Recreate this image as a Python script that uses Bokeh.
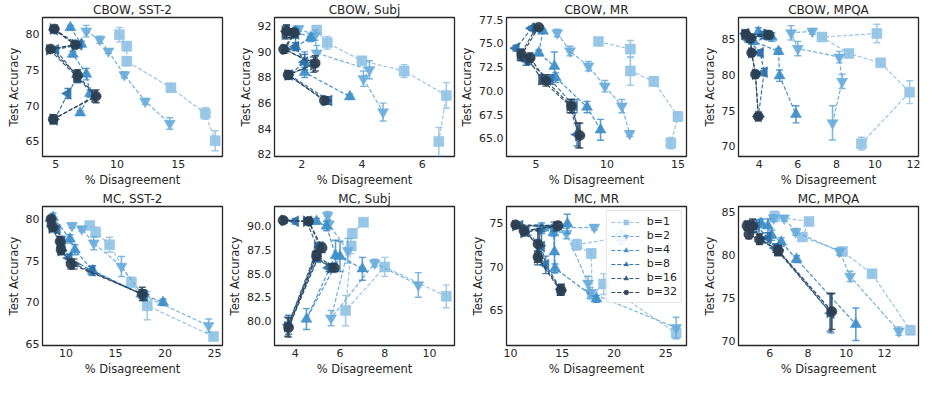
import math
from bokeh.plotting import figure
from bokeh.layouts import column, row
from bokeh.models import (ColumnDataSource, FixedTicker, NumeralTickFormatter,
                          Legend, LegendItem, Range1d)
from bokeh.embed import file_html
from bokeh.resources import INLINE

# ---------------- data ----------------
series_labels = ["b=1", "b=2", "b=4", "b=8", "b=16", "b=32"]
panel_titles = ["CBOW, SST-2", "CBOW, Subj", "CBOW, MR", "CBOW, MPQA",
                "MC, SST-2", "MC, Subj", "MC, MR", "MC, MPQA"]

# CBOW, SST-2
cbow_sst2_x = [[10.2, 10.8, 10.8, 14.4, 17.2, 18.0], [7.5, 8.6, 9.3, 10.6, 12.3, 14.3],
               [6.2, 7.1, 6.4, 7.5, 7.8, 7.0], [4.9, 6.9, 5.0, 6.8, 6.0, 4.9],
               [4.8, 6.6, 4.5, 6.7, 8.2, 4.8], [4.9, 6.6, 4.6, 6.8, 8.3, 4.8]]
cbow_sst2_y = [[79.9, 78.3, 76.2, 72.5, 68.9, 65.1], [80.4, 79.2, 77.6, 74.3, 70.6, 67.5],
               [80.9, 78.6, 77.2, 74.4, 71.7, 69.0], [80.6, 78.5, 77.8, 74.0, 71.7, 68.0],
               [80.7, 78.5, 77.8, 74.1, 71.3, 68.1], [80.7, 78.5, 77.9, 74.2, 71.3, 68.1]]
cbow_sst2_e = [[1.0, 0.6, 0.6, 0.5, 0.8, 1.4], [0.8, 0.5, 0.3, 0.4, 0.4, 0.8],
               [0.3, 0.4, 0.4, 0.8, 0.5, 0.3], [0.4, 0.4, 0.3, 0.8, 0.7, 0.5],
               [0.3, 0.4, 0.3, 0.8, 0.8, 0.6], [0.3, 0.4, 0.3, 0.8, 0.9, 0.6]]

# CBOW, Subj
cbow_subj_x = [[2.5, 2.85, 4.0, 5.4, 6.8, 6.55], [1.9, 2.45, 2.5, 4.25, 4.05, 4.7],
               [1.8, 2.3, 1.8, 2.1, 2.1, 3.6], [1.5, 1.8, 1.8, 2.1, 1.6, 2.9],
               [1.45, 1.75, 1.45, 2.4, 1.55, 2.8], [1.5, 1.75, 1.4, 2.45, 1.55, 2.75]]
cbow_subj_y = [[91.7, 90.7, 89.3, 88.5, 86.6, 83.0], [91.8, 91.3, 89.9, 88.6, 87.9, 85.3],
               [91.6, 91.1, 90.4, 89.2, 88.4, 86.5], [91.6, 91.4, 90.4, 89.2, 88.2, 86.2],
               [91.5, 91.4, 90.2, 89.0, 88.2, 86.2], [91.6, 91.5, 90.2, 89.1, 88.2, 86.2]]
cbow_subj_e = [[0.3, 0.5, 0.3, 0.5, 1.0, 1.1], [0.2, 0.4, 0.6, 0.7, 0.6, 0.7],
               [0.3, 0.3, 0.3, 0.8, 0.4, 0.2], [0.5, 0.3, 0.3, 0.6, 0.3, 0.3],
               [0.5, 0.3, 0.3, 0.6, 0.3, 0.3], [0.5, 0.3, 0.3, 0.6, 0.3, 0.3]]

# CBOW, MR
cbow_mr_x = [[9.4, 11.65, 11.65, 13.3, 15.0, 14.5], [6.5, 7.4, 8.7, 9.85, 11.05, 11.6],
             [5.5, 5.2, 6.3, 6.4, 8.6, 9.55], [4.7, 3.6, 4.3, 6.0, 7.7, 7.9],
             [5.0, 3.9, 4.5, 5.4, 7.4, 8.0], [5.2, 4.0, 4.6, 5.7, 7.5, 8.1]]
cbow_mr_y = [[75.2, 74.4, 72.1, 71.0, 67.3, 64.5], [76.1, 74.2, 72.6, 70.5, 68.4, 65.5],
             [76.3, 74.0, 72.6, 71.4, 68.3, 65.9], [76.6, 74.5, 73.2, 71.2, 68.4, 65.4],
             [76.6, 73.8, 73.3, 71.2, 68.4, 65.3], [76.7, 73.8, 73.5, 71.1, 68.4, 65.3]]
cbow_mr_e = [[0.3, 0.9, 1.5, 0.5, 0.5, 0.6], [0.4, 0.5, 0.5, 0.6, 0.7, 0.3],
             [0.2, 0.3, 1.5, 0.5, 0.6, 1.1], [0.2, 0.3, 0.5, 0.5, 0.7, 1.2],
             [0.2, 0.6, 0.5, 0.5, 0.7, 1.3], [0.2, 0.6, 0.5, 0.6, 0.7, 1.3]]

# CBOW, MPQA
cbow_mpqa_x = [[10.1, 7.25, 8.65, 10.3, 11.8, 9.3], [6.75, 5.65, 6.0, 8.15, 8.3, 7.8],
               [3.95, 4.65, 3.7, 5.0, 5.05, 5.9], [3.3, 4.2, 3.4, 4.05, 4.25, 3.95],
               [3.25, 4.4, 3.5, 3.6, 3.8, 3.95], [3.3, 4.5, 3.55, 3.6, 3.8, 3.95]]
cbow_mpqa_y = [[85.8, 85.3, 83.0, 81.7, 77.6, 70.4], [86.1, 85.9, 83.7, 82.5, 79.1, 73.3],
               [86.0, 85.3, 84.7, 83.3, 79.9, 74.5], [85.8, 85.6, 85.0, 83.1, 80.4, 74.2],
               [85.7, 85.7, 85.2, 83.1, 80.1, 74.2], [85.7, 85.6, 85.1, 83.1, 80.1, 74.2]]
cbow_mpqa_e = [[1.3, 0.3, 0.4, 0.4, 1.6, 0.9], [0.4, 1.0, 1.0, 0.8, 1.0, 2.4],
               [0.6, 0.6, 0.4, 0.4, 0.8, 1.2], [0.5, 0.5, 0.4, 0.4, 0.5, 0.3],
               [0.5, 0.5, 0.4, 0.4, 0.5, 0.3], [0.5, 0.5, 0.4, 0.4, 0.5, 0.3]]

# MC, SST-2
mc_sst2_x = [[12.4, 13.0, 14.4, 16.6, 18.2, 24.9], [10.6, 11.6, 12.8, 15.6, 17.8, 24.4],
             [8.7, 10.4, 10.9, 12.7, 17.6, 19.8], [8.5, 9.1, 9.6, 10.3, 12.6, 17.9],
             [8.4, 8.6, 9.4, 9.5, 10.8, 17.8], [8.5, 8.7, 9.4, 9.5, 10.5, 17.7]]
mc_sst2_y = [[79.2, 78.4, 76.9, 72.4, 69.6, 65.9], [79.2, 78.8, 77.1, 74.3, 70.8, 67.2],
             [80.2, 77.6, 76.3, 73.8, 71.0, 70.0], [79.8, 78.7, 77.3, 75.3, 73.8, 70.8],
             [79.6, 78.9, 77.1, 76.2, 74.6, 70.9], [80.0, 79.0, 77.3, 76.3, 74.6, 71.0]]
mc_sst2_e = [[0.3, 0.6, 0.9, 0.6, 1.7, 0.3], [0.3, 0.3, 0.8, 1.2, 0.5, 0.8],
             [0.5, 0.5, 0.6, 0.6, 0.5, 0.4], [0.4, 0.4, 0.6, 0.5, 0.5, 0.6],
             [0.4, 0.4, 0.6, 0.5, 0.6, 0.6], [0.4, 0.4, 0.6, 0.5, 0.6, 0.8]]

# MC, Subj
mc_subj_x = [[7.05, 6.55, 6.5, 6.25, 8.0, 10.75], [5.45, 5.5, 6.35, 5.6, 7.55, 9.5],
             [4.95, 5.4, 5.8, 4.5, 6.0, 7.0], [4.0, 4.6, 5.1, 3.7, 5.0, 5.5],
             [3.5, 4.5, 5.0, 3.65, 4.9, 5.6], [3.45, 4.6, 5.2, 3.7, 4.95, 5.75]]
mc_subj_y = [[90.4, 89.2, 87.9, 81.1, 85.7, 82.6], [91.1, 90.2, 87.4, 80.3, 86.1, 83.8],
             [90.5, 90.0, 86.9, 80.2, 86.8, 85.5], [90.5, 90.5, 87.8, 79.6, 86.7, 85.6],
             [90.6, 90.5, 87.7, 79.4, 86.8, 85.6], [90.6, 90.5, 87.7, 79.3, 86.9, 85.6]]
mc_subj_e = [[0.3, 0.5, 0.8, 1.6, 1.0, 1.2], [0.4, 0.4, 1.3, 0.8, 0.4, 1.3],
             [0.3, 0.5, 1.6, 1.1, 1.6, 1.2], [0.3, 0.3, 0.5, 1.0, 0.5, 0.4],
             [0.3, 0.3, 0.5, 1.0, 0.5, 0.4], [0.3, 0.3, 0.5, 1.0, 0.5, 0.4]]

# MC, MR
mc_mr_x = [[20.7, 16.4, 17.8, 17.9, 19.0, 26.0], [18.1, 12.9, 15.4, 17.5, 17.7, 26.0],
           [15.5, 13.0, 14.15, 14.25, 14.3, 18.3], [10.9, 14.2, 11.5, 13.0, 13.4, 14.9],
           [10.5, 14.5, 11.3, 12.8, 12.6, 14.8], [10.5, 14.6, 11.3, 12.65, 12.65, 14.9]]
mc_mr_y = [[73.4, 72.5, 71.5, 66.8, 68.0, 62.4], [74.5, 74.4, 73.8, 68.1, 67.0, 63.0],
           [74.9, 74.4, 73.9, 71.7, 69.8, 66.3], [74.7, 74.6, 74.1, 72.3, 70.2, 67.4],
           [74.7, 74.6, 73.9, 72.4, 71.0, 67.3], [74.8, 74.7, 74.1, 72.6, 71.1, 67.3]]
mc_mr_e = [[0.8, 0.6, 0.5, 0.5, 1.2, 0.7], [0.3, 0.4, 0.6, 0.8, 0.6, 1.2],
           [1.1, 0.6, 0.4, 2.4, 0.5, 0.4], [0.3, 0.5, 0.4, 1.7, 1.0, 0.6],
           [0.3, 0.5, 0.4, 1.7, 0.8, 0.6], [0.3, 0.4, 0.4, 1.7, 0.6, 0.6]]

# MC, MPQA
mc_mpqa_x = [[6.25, 8.05, 7.7, 9.8, 11.35, 13.35], [6.2, 6.75, 7.35, 9.65, 10.2, 12.75],
             [5.55, 5.9, 6.1, 6.6, 7.4, 10.5], [5.0, 5.3, 5.9, 6.3, 6.45, 9.2],
             [4.85, 5.1, 5.5, 6.4, 6.4, 9.15], [4.8, 5.1, 4.9, 5.45, 6.45, 9.25]]
mc_mpqa_y = [[84.5, 83.9, 82.1, 80.4, 77.8, 71.2], [84.3, 84.3, 82.7, 80.4, 77.5, 71.1],
             [83.7, 83.4, 82.3, 81.5, 79.5, 71.9], [83.5, 83.4, 82.0, 80.8, 80.5, 73.2],
             [83.4, 83.4, 81.9, 80.6, 80.5, 73.3], [83.4, 83.4, 82.4, 81.8, 80.5, 73.4]]
mc_mpqa_e = [[0.6, 0.3, 0.3, 0.4, 0.4, 0.5], [0.4, 0.3, 0.4, 0.4, 0.6, 0.5],
             [0.5, 0.8, 0.6, 0.5, 0.4, 1.9], [0.5, 0.7, 0.6, 0.5, 0.5, 2.3],
             [0.5, 0.7, 0.6, 0.5, 0.5, 2.2], [0.5, 0.8, 0.5, 0.6, 0.6, 2.1]]

# tick positions
cbow_sst2_xt, cbow_sst2_yt = [5, 10, 15], [65, 70, 75, 80]
cbow_subj_xt, cbow_subj_yt = [2, 4, 6], [82, 84, 86, 88, 90, 92]
cbow_mr_xt, cbow_mr_yt = [5, 10, 15], [65.0, 67.5, 70.0, 72.5, 75.0, 77.5]
cbow_mpqa_xt, cbow_mpqa_yt = [4, 6, 8, 10, 12], [70, 75, 80, 85]
mc_sst2_xt, mc_sst2_yt = [10, 15, 20, 25], [65, 70, 75, 80]
mc_subj_xt, mc_subj_yt = [4, 6, 8, 10], [80.0, 82.5, 85.0, 87.5, 90.0]
mc_mr_xt, mc_mr_yt = [10, 15, 20, 25], [65, 70, 75]
mc_mpqa_xt, mc_mpqa_yt = [6, 8, 10, 12], [70, 75, 80, 85]

# ---------------- style ----------------
colors = ["#93c3e5", "#6aaddb", "#3e8ec9", "#2b70aa", "#2b5578", "#2c3e50"]
markers = ["square", "inverted_triangle", "triangle", "triangle", "triangle", "circle"]
angles = [0, 0, 0, math.pi / 2, -math.pi / 2, 0]
msizes = [10, 11, 11, 11, 11, 10]
FONT = "DejaVu Sans"
TXT = "#262626"

panels = [
    (cbow_sst2_x, cbow_sst2_y, cbow_sst2_e, (3.93, 18.6), (62.9, 82.3), cbow_sst2_xt, cbow_sst2_yt, "0"),
    (cbow_subj_x, cbow_subj_y, cbow_subj_e, (1.10, 7.07), (81.83, 92.68), cbow_subj_xt, cbow_subj_yt, "0"),
    (cbow_mr_x, cbow_mr_y, cbow_mr_e, (2.93, 15.6), (63.09, 77.73), cbow_mr_xt, cbow_mr_yt, "0.0"),
    (cbow_mpqa_x, cbow_mpqa_y, cbow_mpqa_e, (2.92, 12.26), (68.6, 88.04), cbow_mpqa_xt, cbow_mpqa_yt, "0"),
    (mc_sst2_x, mc_sst2_y, mc_sst2_e, (7.63, 25.8), (64.82, 81.49), mc_sst2_xt, mc_sst2_yt, "0"),
    (mc_subj_x, mc_subj_y, mc_subj_e, (3.07, 11.12), (77.42, 92.06), mc_subj_xt, mc_subj_yt, "0.0"),
    (mc_mr_x, mc_mr_y, mc_mr_e, (9.62, 27.0), (60.96, 76.89), mc_mr_xt, mc_mr_yt, "0"),
    (mc_mpqa_x, mc_mpqa_y, mc_mpqa_e, (4.36, 13.78), (69.42, 85.66), mc_mpqa_xt, mc_mpqa_yt, "0"),
]


def make_panel(idx):
    xs, ys, es, xr, yr, xt, yt, fmt = panels[idx]
    col = idx % 4
    left = 42 if col == 0 else 50
    width = left + 180 + 2
    p = figure(width=width, height=189, output_backend="svg", toolbar_location=None,
               x_range=Range1d(*xr), y_range=Range1d(*yr), title=panel_titles[idx],
               min_border_left=left, min_border_right=2, min_border_top=0,
               min_border_bottom=0)
    p.title.align = "center"
    p.title.text_font = FONT
    p.title.text_font_size = "12px"
    p.title.text_font_style = "normal"
    p.title.text_color = TXT
    p.title.standoff = 1
    p.grid.visible = False
    p.outline_line_color = "#262626"
    p.outline_line_width = 1.3
    p.background_fill_color = "white"
    p.border_fill_color = "white"
    for ax in (p.xaxis[0], p.yaxis[0]):
        ax.axis_line_color = None
        ax.major_tick_out = 0
        ax.major_tick_in = 0
        ax.minor_tick_out = 0
        ax.minor_tick_in = 0
        ax.major_label_text_font = FONT
        ax.major_label_text_font_size = "11px"
        ax.major_label_text_color = TXT
        ax.major_label_standoff = 3
        ax.axis_label_text_font = FONT
        ax.axis_label_text_font_size = "11.5px"
        ax.axis_label_text_font_style = "normal"
        ax.axis_label_text_color = TXT
        ax.axis_label_standoff = 2
    p.xaxis[0].axis_label = "% Disagreement"
    p.yaxis[0].axis_label = "Test Accuracy"
    p.xaxis[0].ticker = FixedTicker(ticks=xt)
    p.yaxis[0].ticker = FixedTicker(ticks=yt)
    p.xaxis[0].formatter = NumeralTickFormatter(format="0")
    p.yaxis[0].formatter = NumeralTickFormatter(format=fmt)

    items = []
    for s in range(6):
        c = colors[s]
        src = ColumnDataSource(dict(
            x=xs[s], y=ys[s],
            lo=[a - b for a, b in zip(ys[s], es[s])],
            hi=[a + b for a, b in zip(ys[s], es[s])]))
        lr = p.line("x", "y", source=src, line_color=c, line_width=1.2,
                    line_dash="4 2", line_alpha=0.95)
        p.segment("x", "lo", "x", "hi", source=src, line_color=c, line_width=1.6,
                  line_alpha=0.85)
        p.scatter("x", "lo", source=src, marker="dash", size=7, line_color=c,
                  line_width=1.4, line_alpha=0.85)
        p.scatter("x", "hi", source=src, marker="dash", size=7, line_color=c,
                  line_width=1.4, line_alpha=0.85)
        sr = p.scatter("x", "y", source=src, marker=markers[s], size=msizes[s],
                       angle=angles[s], fill_color=c, fill_alpha=0.92,
                       line_color=c, line_alpha=0.5, line_width=1)
        items.append(LegendItem(label=series_labels[s], renderers=[lr, sr]))
    if idx == 6:
        leg = Legend(items=items, location="top_right")
        leg.label_text_font = FONT
        leg.label_text_font_size = "11px"
        leg.label_text_color = TXT
        leg.glyph_width = 30
        leg.glyph_height = 12
        leg.spacing = 1
        leg.padding = 4
        leg.margin = 4
        leg.label_standoff = 6
        leg.border_line_color = "#cccccc"
        leg.background_fill_alpha = 0.85
        p.add_layout(leg)
    return p


figs = [make_panel(i) for i in range(8)]
layout = column(row(*figs[:4]), row(*figs[4:]))
open("out.html", "w").write(file_html(layout, INLINE))
